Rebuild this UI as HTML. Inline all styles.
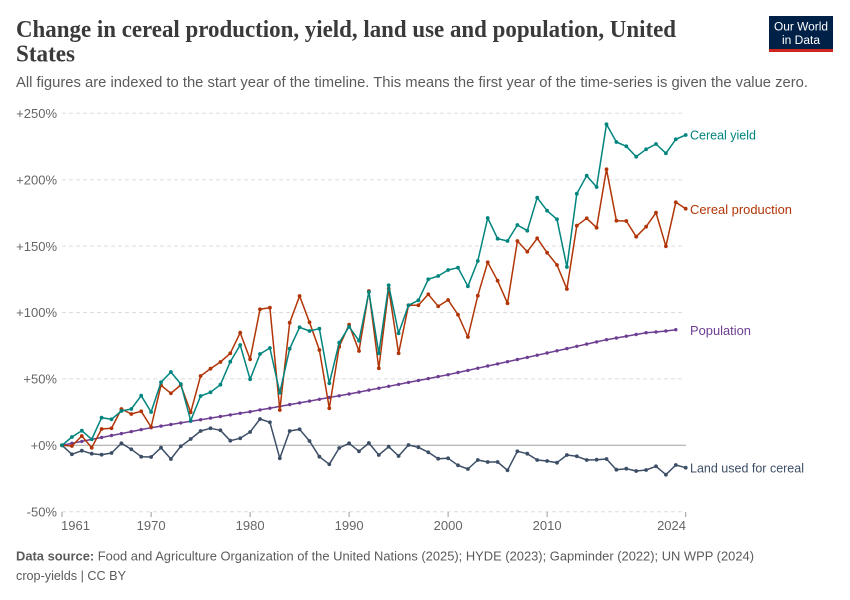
<!DOCTYPE html>
<html>
<head>
<meta charset="utf-8">
<style>
  html, body { margin: 0; padding: 0; background: #fff; }
  body { width: 850px; height: 600px; overflow: hidden; }
  svg { display: block; }
  .sans { font-family: "Liberation Sans", "DejaVu Sans", sans-serif; }
  .serif { font-family: "Liberation Serif", "DejaVu Serif", serif; }
</style>
</head>
<body>
<svg width="850" height="600" viewBox="0 0 850 600" xmlns="http://www.w3.org/2000/svg">
  <defs>
    <marker id="mt" markerWidth="5" markerHeight="5" refX="2.5" refY="2.5" markerUnits="userSpaceOnUse"><circle cx="2.5" cy="2.5" r="1.9" fill="#00847e"/></marker>
    <marker id="mr" markerWidth="5" markerHeight="5" refX="2.5" refY="2.5" markerUnits="userSpaceOnUse"><circle cx="2.5" cy="2.5" r="1.9" fill="#b13507"/></marker>
    <marker id="ml" markerWidth="5" markerHeight="5" refX="2.5" refY="2.5" markerUnits="userSpaceOnUse"><circle cx="2.5" cy="2.5" r="1.9" fill="#3c4e66"/></marker>
    <marker id="mp" markerWidth="5" markerHeight="5" refX="2.5" refY="2.5" markerUnits="userSpaceOnUse"><circle cx="2.5" cy="2.5" r="1.7" fill="#6d3e91"/></marker>
  </defs>

  <!-- Title -->
  <text class="serif" x="16" y="37" font-size="24" font-weight="600" fill="#3a3a3a" textLength="660" lengthAdjust="spacingAndGlyphs">Change in cereal production, yield, land use and population, United</text>
  <text class="serif" x="16" y="61.5" font-size="24" font-weight="600" fill="#3a3a3a" textLength="59" lengthAdjust="spacingAndGlyphs">States</text>

  <!-- Subtitle -->
  <text class="sans" x="16" y="87" font-size="14.5" fill="#5b5b5b" textLength="792" lengthAdjust="spacingAndGlyphs">All figures are indexed to the start year of the timeline. This means the first year of the time-series is given the value zero.</text>

  <!-- Logo -->
  <rect x="769" y="16" width="64" height="36" fill="#002147"/>
  <rect x="769" y="49" width="64" height="3" fill="#ce261e"/>
  <text class="sans" x="801" y="30.5" font-size="11.5" fill="#fff" text-anchor="middle" textLength="54" lengthAdjust="spacingAndGlyphs">Our World</text>
  <text class="sans" x="801" y="44" font-size="11.5" fill="#fff" text-anchor="middle" textLength="38" lengthAdjust="spacingAndGlyphs">in Data</text>

  <!-- Gridlines -->
  <g stroke="#dddddd" stroke-width="1" stroke-dasharray="4,3">
    <line x1="62" y1="113.3" x2="683" y2="113.3"/>
    <line x1="62" y1="179.7" x2="683" y2="179.7"/>
    <line x1="62" y1="246.1" x2="683" y2="246.1"/>
    <line x1="62" y1="312.5" x2="683" y2="312.5"/>
    <line x1="62" y1="378.9" x2="683" y2="378.9"/>
    <line x1="62" y1="511.7" x2="683" y2="511.7"/>
  </g>
  <line x1="62" y1="445.3" x2="686" y2="445.3" stroke="#a1a1a1" stroke-width="1"/>

  <!-- Y labels -->
  <g class="sans" font-size="13" fill="#666" text-anchor="end">
    <text x="57" y="118">+250%</text>
    <text x="57" y="184.4">+200%</text>
    <text x="57" y="250.8">+150%</text>
    <text x="57" y="317.2">+100%</text>
    <text x="57" y="383.6">+50%</text>
    <text x="57" y="450">+0%</text>
    <text x="57" y="516.4">-50%</text>
  </g>

  <!-- X ticks -->
  <g stroke="#999" stroke-width="1">
    <line x1="62" y1="512" x2="62" y2="517"/>
    <line x1="151.1" y1="512" x2="151.1" y2="517"/>
    <line x1="250.1" y1="512" x2="250.1" y2="517"/>
    <line x1="349.1" y1="512" x2="349.1" y2="517"/>
    <line x1="448.1" y1="512" x2="448.1" y2="517"/>
    <line x1="547.1" y1="512" x2="547.1" y2="517"/>
    <line x1="685.7" y1="512" x2="685.7" y2="517"/>
  </g>
  <g class="sans" font-size="13" fill="#666">
    <text x="61" y="530">1961</text>
    <text x="151.1" y="530" text-anchor="middle">1970</text>
    <text x="250.1" y="530" text-anchor="middle">1980</text>
    <text x="349.1" y="530" text-anchor="middle">1990</text>
    <text x="448.1" y="530" text-anchor="middle">2000</text>
    <text x="547.1" y="530" text-anchor="middle">2010</text>
    <text x="686" y="530" text-anchor="end">2024</text>
  </g>

  <!-- Series -->
  <g fill="none" stroke-width="1.5" stroke-linejoin="round">
    <polyline stroke="#3c4e66" marker-start="url(#ml)" marker-mid="url(#ml)" marker-end="url(#ml)" points="62,445.3 71.9,454.3 81.8,450.7 91.7,453.7 101.6,454.7 111.5,453 121.4,443.3 131.3,449.3 141.2,456.7 151.1,457 161,447.7 170.9,459 180.8,446.3 190.7,439 200.6,431 210.5,428.3 220.4,430.3 230.3,440.7 240.2,438.3 250.1,432 260,419 269.9,422.3 279.8,458.3 289.7,431 299.6,429.3 309.5,441 319.4,456.7 329.3,464.3 339.2,448 349.1,443.3 359,451.3 368.9,443 378.8,455 388.7,446.7 398.6,456 408.5,445 418.4,447.3 428.3,452.3 438.2,458.7 448.1,458.3 458,465.3 467.9,469 477.8,460 487.7,462 497.6,462 507.5,470.3 517.4,451.3 527.3,453.7 537.2,460 547.1,461 557,462.7 566.9,455 576.8,456.3 586.7,460 596.6,459.7 606.5,459 616.4,469.7 626.3,468.7 636.2,471 646.1,470 656,466.3 665.9,474.7 675.8,465 685.7,467.7"/>
    <polyline stroke="#6d3e91" marker-start="url(#mp)" marker-mid="url(#mp)" marker-end="url(#mp)" points="62,445.3 71.9,443.3 81.8,441.4 91.7,439.4 101.6,437.5 111.5,435.5 121.4,433.6 131.3,431.6 141.2,429.6 151.1,427.7 161,426.1 170.9,424.5 180.8,422.9 190.7,421.3 200.6,419.7 210.5,418.1 220.4,416.5 230.3,414.9 240.2,413.3 250.1,411.7 260,409.9 269.9,408.2 279.8,406.4 289.7,404.6 299.6,402.9 309.5,401.1 319.4,399.3 329.3,397.5 339.2,395.8 349.1,394 359,392.1 368.9,390.1 378.8,388.2 388.7,386.3 398.6,384.4 408.5,382.4 418.4,380.5 428.3,378.6 438.2,376.6 448.1,374.7 458,372.5 467.9,370.4 477.8,368.2 487.7,366 497.6,363.9 507.5,361.7 517.4,359.5 527.3,357.4 537.2,355.2 547.1,353 557,350.8 566.9,348.6 576.8,346.3 586.7,344.1 596.6,341.9 606.5,339.7 616.4,338 626.3,336.2 636.2,334.5 646.1,332.7 656,332 665.9,331 675.8,329.7"/>
    <polyline stroke="#b13507" marker-start="url(#mr)" marker-mid="url(#mr)" marker-end="url(#mr)" points="62,445.3 71.9,446 81.8,436 91.7,447.7 101.6,429 111.5,428.3 121.4,409 131.3,414 141.2,411.3 151.1,427 161,385.3 170.9,393.3 180.8,385 190.7,412.3 200.6,376 210.5,368.7 220.4,362 230.3,353.3 240.2,332.7 250.1,359.3 260,309.3 269.9,307.7 279.8,410 289.7,322.7 299.6,296 309.5,322.3 319.4,350 329.3,408.3 339.2,346.7 349.1,324.7 359,351 368.9,291 378.8,368.3 388.7,288.7 398.6,353.3 408.5,305.3 418.4,305.3 428.3,294.3 438.2,306.3 448.1,300 458,314.7 467.9,337 477.8,295.7 487.7,262.3 497.6,280.7 507.5,303.3 517.4,241 527.3,251.7 537.2,238.3 547.1,252.7 557,265 566.9,289 576.8,225.7 586.7,218.3 596.6,227.7 606.5,169.3 616.4,220.7 626.3,221 636.2,236.7 646.1,226.7 656,212.7 665.9,246.3 675.8,202.3 685.7,208.7"/>
    <polyline stroke="#00847e" marker-start="url(#mt)" marker-mid="url(#mt)" marker-end="url(#mt)" points="62,445.3 71.9,437 81.8,430.7 91.7,439.3 101.6,417.7 111.5,419.3 121.4,411 131.3,409 141.2,395.7 151.1,412 161,382.3 170.9,372 180.8,384 190.7,420.7 200.6,396 210.5,392.3 220.4,384.7 230.3,361.7 240.2,345 250.1,379.3 260,354 269.9,348 279.8,392.7 289.7,348.7 299.6,327.3 309.5,331 319.4,328.7 329.3,383.3 339.2,342.7 349.1,326.7 359,340.7 368.9,292 378.8,353.3 388.7,285.3 398.6,333.3 408.5,305.3 418.4,300.3 428.3,279.3 438.2,276 448.1,270 458,267.7 467.9,286.3 477.8,261 487.7,218 497.6,238.7 507.5,241 517.4,225 527.3,230.7 537.2,197.7 547.1,210.7 557,219.3 566.9,267 576.8,193.7 586.7,175.7 596.6,187 606.5,124.3 616.4,142 626.3,146.3 636.2,156.7 646.1,149.3 656,144 665.9,153.3 675.8,139.3 685.7,135"/>
  </g>

  <!-- Series labels -->
  <g class="sans" font-size="13">
    <text x="690" y="139.5" fill="#00847e" textLength="66" lengthAdjust="spacingAndGlyphs">Cereal yield</text>
    <text x="690" y="213.8" fill="#b13507" textLength="102" lengthAdjust="spacingAndGlyphs">Cereal production</text>
    <text x="690" y="335" fill="#6d3e91" textLength="61" lengthAdjust="spacingAndGlyphs">Population</text>
    <text x="690" y="472.5" fill="#3c4e66" textLength="114" lengthAdjust="spacingAndGlyphs">Land used for cereal</text>
  </g>

  <!-- Footer -->
  <text class="sans" x="16" y="560.5" font-size="13" fill="#5b5b5b" textLength="738" lengthAdjust="spacingAndGlyphs"><tspan font-weight="bold">Data source:</tspan> Food and Agriculture Organization of the United Nations (2025); HYDE (2023); Gapminder (2022); UN WPP (2024)</text>
  <text class="sans" x="16" y="580" font-size="13" fill="#5b5b5b" textLength="110" lengthAdjust="spacingAndGlyphs">crop-yields | CC BY</text>
</svg>
</body>
</html>
